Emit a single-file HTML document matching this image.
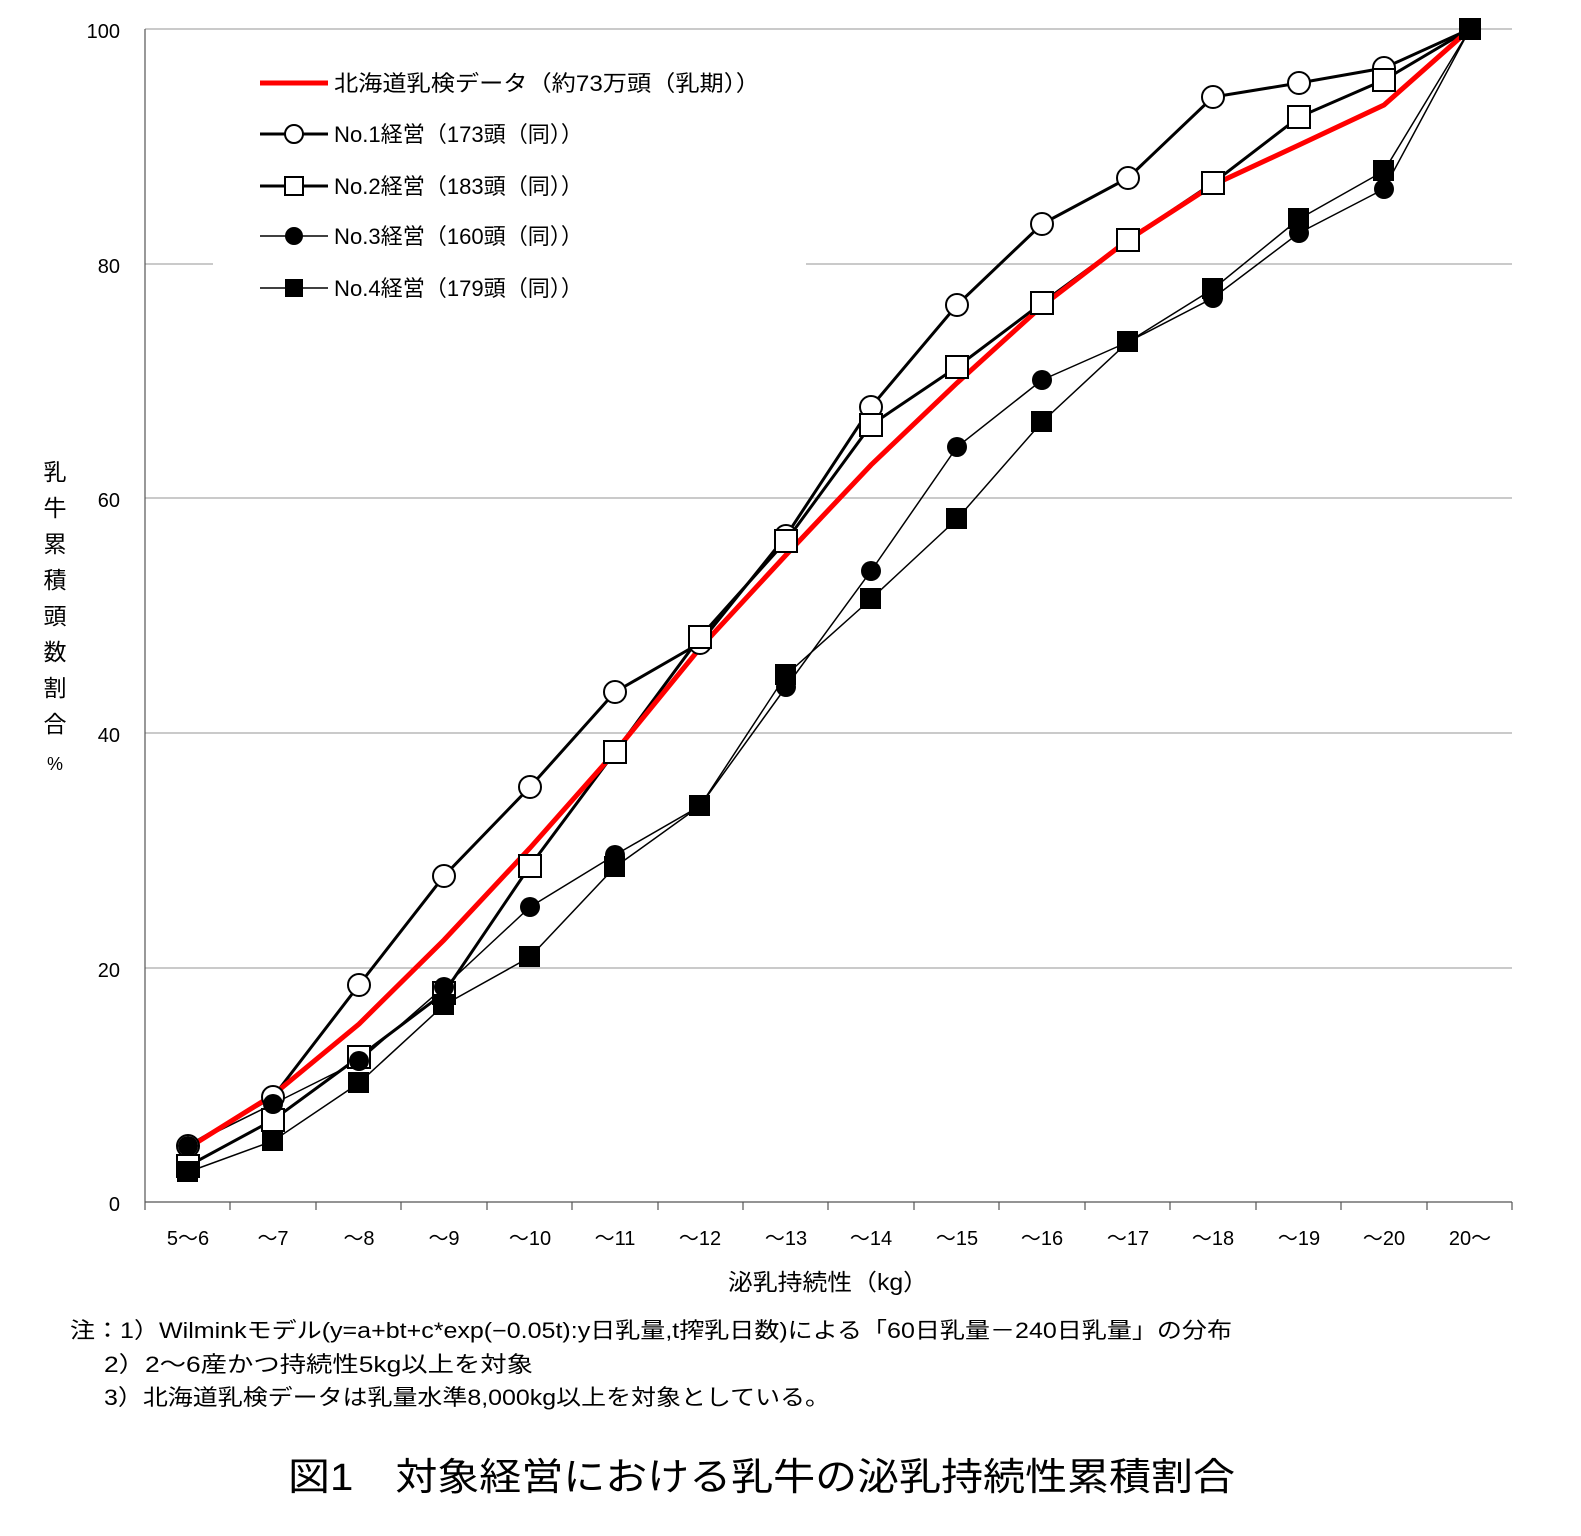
<!DOCTYPE html>
<html><head><meta charset="utf-8"><style>
body{margin:0;background:#fff;}
svg text{font-family:"Liberation Sans","Noto Sans CJK JP",sans-serif;}
</style></head><body>
<svg width="1581" height="1531" xmlns="http://www.w3.org/2000/svg">
<rect width="1581" height="1531" fill="#fff"/>
<g stroke="#aaa" stroke-width="1.2">
<line x1="145" y1="29" x2="1512" y2="29"/>
<line x1="145" y1="264" x2="1512" y2="264"/>
<line x1="145" y1="498" x2="1512" y2="498"/>
<line x1="145" y1="733" x2="1512" y2="733"/>
<line x1="145" y1="968" x2="1512" y2="968"/>
</g>
<rect x="213" y="50" width="593" height="270" fill="#fff"/>
<g stroke="#555" stroke-width="1.2">
<line x1="145" y1="29" x2="145" y2="1202"/>
<line x1="145" y1="1202" x2="1512" y2="1202"/>
<line x1="145" y1="1202" x2="145" y2="1210"/><line x1="230" y1="1202" x2="230" y2="1210"/><line x1="316" y1="1202" x2="316" y2="1210"/><line x1="401" y1="1202" x2="401" y2="1210"/><line x1="487" y1="1202" x2="487" y2="1210"/><line x1="572" y1="1202" x2="572" y2="1210"/><line x1="658" y1="1202" x2="658" y2="1210"/><line x1="743" y1="1202" x2="743" y2="1210"/><line x1="828" y1="1202" x2="828" y2="1210"/><line x1="914" y1="1202" x2="914" y2="1210"/><line x1="999" y1="1202" x2="999" y2="1210"/><line x1="1085" y1="1202" x2="1085" y2="1210"/><line x1="1170" y1="1202" x2="1170" y2="1210"/><line x1="1256" y1="1202" x2="1256" y2="1210"/><line x1="1341" y1="1202" x2="1341" y2="1210"/><line x1="1427" y1="1202" x2="1427" y2="1210"/><line x1="1512" y1="1202" x2="1512" y2="1210"/>
</g>
<g font-size="20" text-anchor="end" fill="#000">
<text x="120" y="38">100</text><text x="120" y="273">80</text><text x="120" y="507">60</text><text x="120" y="742">40</text><text x="120" y="977">20</text><text x="120" y="1211">0</text>
</g>
<g font-size="20" text-anchor="middle" fill="#000">
<text x="188" y="1245">5～6</text><text x="273" y="1245">～7</text><text x="359" y="1245">～8</text><text x="444" y="1245">～9</text><text x="530" y="1245">～10</text><text x="615" y="1245">～11</text><text x="700" y="1245">～12</text><text x="786" y="1245">～13</text><text x="871" y="1245">～14</text><text x="957" y="1245">～15</text><text x="1042" y="1245">～16</text><text x="1128" y="1245">～17</text><text x="1213" y="1245">～18</text><text x="1299" y="1245">～19</text><text x="1384" y="1245">～20</text><text x="1470" y="1245">20～</text>
</g>
<text x="728" y="1290" font-size="23" textLength="200" lengthAdjust="spacingAndGlyphs">泌乳持続性（kg）</text>
<g font-size="23" text-anchor="middle" fill="#000">
<text x="55" y="480">乳</text><text x="55" y="516">牛</text><text x="55" y="552">累</text><text x="55" y="588">積</text><text x="55" y="624">頭</text><text x="55" y="660">数</text><text x="55" y="696">割</text><text x="55" y="732">合</text><text x="55" y="770" font-size="18">%</text>
</g>
<polyline fill="none" stroke="#000" stroke-width="1.5" points="188,1172 273,1141 359,1083 444,1005 530,957 615,867 700,806 786,675 871,599 957,519 1042,422 1128,342 1213,289 1299,219 1384,171 1470,29"/>
<polyline fill="none" stroke="#000" stroke-width="1.5" points="188,1146 273,1104 359,1061 444,987 530,907 615,855 700,806 786,687 871,571 957,447 1042,380 1128,342 1213,298 1299,233 1384,189 1470,29"/>
<polyline fill="none" stroke="#000" stroke-width="3" points="188,1166 273,1120 359,1057 444,993 530,866 615,752 700,637 786,541 871,425 957,367 1042,303 1128,240 1213,183 1299,117 1384,80 1470,29"/>
<polyline fill="none" stroke="#000" stroke-width="3" points="188,1146 273,1097 359,985 444,876 530,787 615,692 700,643 786,536 871,407 957,305 1042,224 1128,178 1213,97 1299,83 1384,68 1470,29"/>
<polyline fill="none" stroke="#f00" stroke-width="5" points="188,1148 273,1095 359,1024 444,940 530,848 615,752 700,648 786,555 871,465 957,383 1042,306 1128,240 1213,185 1299,145 1384,105 1470,29"/>
<g fill="#fff" stroke="#000" stroke-width="2">
<circle cx="188" cy="1146" r="11"/><circle cx="273" cy="1097" r="11"/><circle cx="359" cy="985" r="11"/><circle cx="444" cy="876" r="11"/><circle cx="530" cy="787" r="11"/><circle cx="615" cy="692" r="11"/><circle cx="700" cy="643" r="11"/><circle cx="786" cy="536" r="11"/><circle cx="871" cy="407" r="11"/><circle cx="957" cy="305" r="11"/><circle cx="1042" cy="224" r="11"/><circle cx="1128" cy="178" r="11"/><circle cx="1213" cy="97" r="11"/><circle cx="1299" cy="83" r="11"/><circle cx="1384" cy="68" r="11"/>
</g>
<g fill="#fff" stroke="#000" stroke-width="2">
<rect x="177" y="1155" width="22" height="22"/><rect x="262" y="1109" width="22" height="22"/><rect x="348" y="1046" width="22" height="22"/><rect x="433" y="982" width="22" height="22"/><rect x="519" y="855" width="22" height="22"/><rect x="604" y="741" width="22" height="22"/><rect x="689" y="626" width="22" height="22"/><rect x="775" y="530" width="22" height="22"/><rect x="860" y="414" width="22" height="22"/><rect x="946" y="356" width="22" height="22"/><rect x="1031" y="292" width="22" height="22"/><rect x="1117" y="229" width="22" height="22"/><rect x="1202" y="172" width="22" height="22"/><rect x="1288" y="106" width="22" height="22"/><rect x="1373" y="69" width="22" height="22"/>
</g>
<g fill="#000">
<circle cx="188" cy="1146" r="10"/><circle cx="273" cy="1104" r="10"/><circle cx="359" cy="1061" r="10"/><circle cx="444" cy="987" r="10"/><circle cx="530" cy="907" r="10"/><circle cx="615" cy="855" r="10"/><circle cx="700" cy="806" r="10"/><circle cx="786" cy="687" r="10"/><circle cx="871" cy="571" r="10"/><circle cx="957" cy="447" r="10"/><circle cx="1042" cy="380" r="10"/><circle cx="1128" cy="342" r="10"/><circle cx="1213" cy="298" r="10"/><circle cx="1299" cy="233" r="10"/><circle cx="1384" cy="189" r="10"/>
<rect x="177" y="1161" width="21" height="21"/><rect x="262" y="1130" width="21" height="21"/><rect x="348" y="1072" width="21" height="21"/><rect x="433" y="994" width="21" height="21"/><rect x="519" y="946" width="21" height="21"/><rect x="604" y="856" width="21" height="21"/><rect x="689" y="795" width="21" height="21"/><rect x="775" y="664" width="21" height="21"/><rect x="860" y="588" width="21" height="21"/><rect x="946" y="508" width="21" height="21"/><rect x="1031" y="411" width="21" height="21"/><rect x="1117" y="331" width="21" height="21"/><rect x="1202" y="278" width="21" height="21"/><rect x="1288" y="208" width="21" height="21"/><rect x="1373" y="160" width="21" height="21"/>
<rect x="1459" y="18" width="22" height="22"/>
</g>
<g font-size="22" fill="#000">
<line x1="260" y1="83" x2="328" y2="83" stroke="#f00" stroke-width="5"/><text x="334" y="91" textLength="426" lengthAdjust="spacingAndGlyphs">北海道乳検データ（約73万頭（乳期））</text>
<line x1="260" y1="134" x2="328" y2="134" stroke="#000" stroke-width="3"/><circle cx="294" cy="134" r="9" fill="#fff" stroke="#000" stroke-width="2"/><text x="334" y="142" textLength="249" lengthAdjust="spacingAndGlyphs">No.1経営（173頭（同））</text>
<line x1="260" y1="186" x2="328" y2="186" stroke="#000" stroke-width="3"/><rect x="285" y="177" width="18" height="18" fill="#fff" stroke="#000" stroke-width="2"/><text x="334" y="194" textLength="249" lengthAdjust="spacingAndGlyphs">No.2経営（183頭（同））</text>
<line x1="260" y1="236" x2="328" y2="236" stroke="#000" stroke-width="1.5"/><circle cx="294" cy="236" r="9"/><text x="334" y="244" textLength="249" lengthAdjust="spacingAndGlyphs">No.3経営（160頭（同））</text>
<line x1="260" y1="288" x2="328" y2="288" stroke="#000" stroke-width="1.5"/><rect x="285" y="279" width="18" height="18"/><text x="334" y="296" textLength="249" lengthAdjust="spacingAndGlyphs">No.4経営（179頭（同））</text>
</g>
<g font-size="22" fill="#000">
<text x="70" y="1338" textLength="1162" lengthAdjust="spacingAndGlyphs">注：1）Wilminkモデル(y=a+bt+c*exp(−0.05t):y日乳量,t搾乳日数)による「60日乳量－240日乳量」の分布</text>
<text x="104" y="1372" textLength="429" lengthAdjust="spacingAndGlyphs">2）2～6産かつ持続性5kg以上を対象</text>
<text x="104" y="1405" textLength="726" lengthAdjust="spacingAndGlyphs">3）北海道乳検データは乳量水準8,000kg以上を対象としている。</text>
<text x="288" y="1490" font-size="38" textLength="947" lengthAdjust="spacingAndGlyphs">図1　対象経営における乳牛の泌乳持続性累積割合</text>
</g>
</svg>
</body></html>
